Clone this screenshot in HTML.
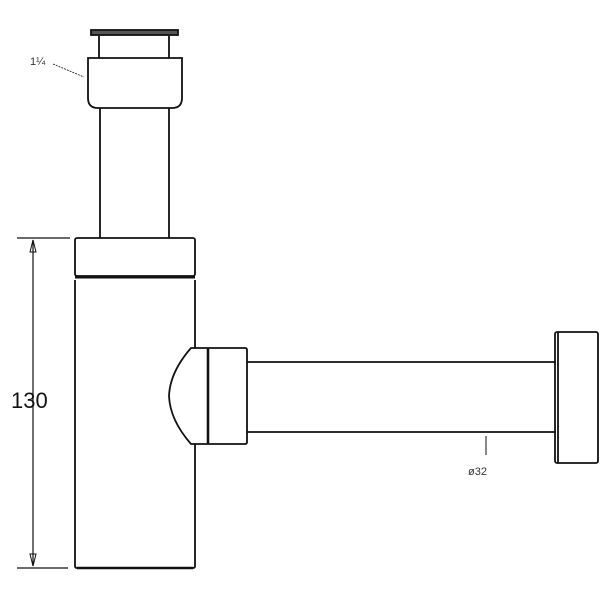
<!DOCTYPE html>
<html><head><style>html,body{margin:0;padding:0;background:#fff}</style></head><body>
<svg width="600" height="600" viewBox="0 0 600 600" xmlns="http://www.w3.org/2000/svg" fill="none" stroke="#111" stroke-width="1.8">
<!-- top cap -->
<rect x="91" y="30" width="87" height="5" fill="#555" stroke="#111"/>
<path d="M99 36 V58 M169 36 V58"/>
<!-- collar -->
<path d="M88 58 H182 V98 Q182 108 172 108 H98 Q88 108 88 98 Z"/>
<!-- tube -->
<path d="M100 108 V238 M169 108 V238"/>
<!-- body band -->
<rect x="75" y="238" width="120" height="38" rx="2"/>
<line x1="75" y1="277" x2="195" y2="277" stroke-width="3"/>
<!-- body -->
<path d="M75 280 V566 Q75 568 77 568 H193 Q195 568 195 566 V444 M195 348 V280"/>
<line x1="77" y1="568" x2="193" y2="568" stroke-width="2.4"/>
<!-- dome -->
<path d="M195 348 L191 348 Q170 372 169 396 Q170 420 191 444 L195 444"/>
<!-- nut -->
<path d="M194 348 H245 Q247 348 247 350 V442 Q247 444 245 444 H194"/>
<line x1="208" y1="348" x2="208" y2="444" stroke-width="2.6"/>
<!-- pipe -->
<path d="M247 362 H556 M247 432 H556"/>
<!-- end cap -->
<rect x="555" y="332" width="43" height="131" rx="2"/>
<line x1="558" y1="332" x2="558" y2="463"/>
<!-- leader 1 1/4 -->
<path d="M53 64 L84 77" stroke-width="0.8" stroke-dasharray="2 1"/>
<text x="30" y="65" font-family="Liberation Sans, sans-serif" font-size="11" fill="#333" stroke="none">1¼</text>
<!-- ø32 -->
<line x1="486" y1="436" x2="486" y2="455" stroke-width="1"/>
<text x="468" y="475" font-family="Liberation Sans, sans-serif" font-size="11" fill="#333" stroke="none">ø32</text>
<!-- dimension -->
<path d="M17 238 H70 M17 568 H68 M33 240 V566" stroke-width="1.2"/>
<path d="M30 252 L33 240 L36 252 Z M30 554 L33 566 L36 554 Z" stroke-width="1"/>
<text x="11" y="408" font-family="Liberation Sans, sans-serif" font-size="22" fill="#111" stroke="none">130</text>
</svg>
</body></html>
